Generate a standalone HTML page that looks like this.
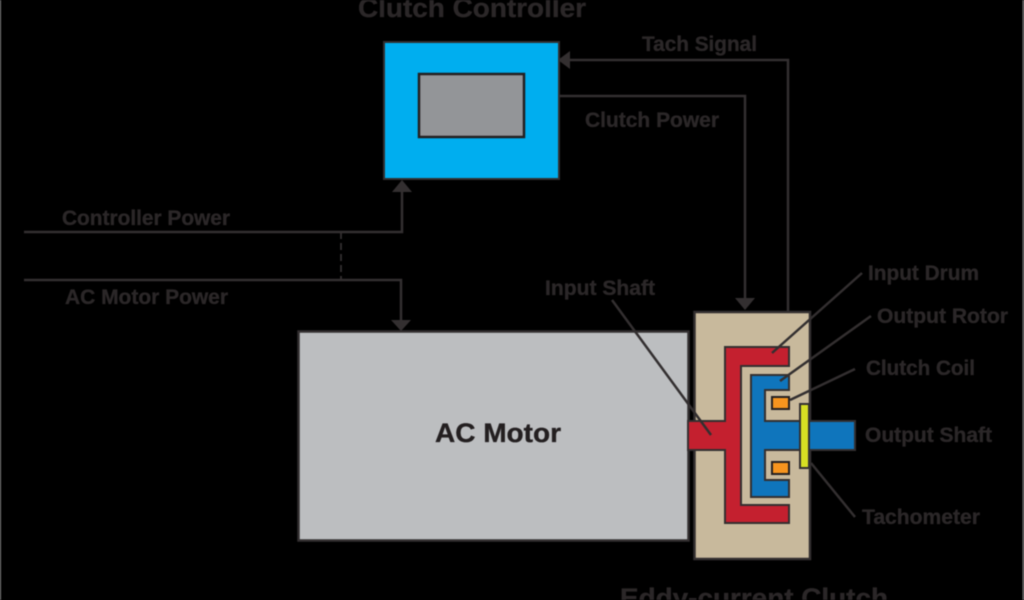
<!DOCTYPE html>
<html><head><meta charset="utf-8"><style>
html,body{margin:0;padding:0;background:#000;width:1024px;height:600px;overflow:hidden}
svg{display:block;filter:blur(0.6px)}
text{font-family:"Liberation Sans",sans-serif;font-weight:bold;fill:#2b2728;stroke:#2b2728;stroke-width:0.35px;font-size:21px}
</style></head><body>
<svg width="1024" height="600" viewBox="0 0 1024 600" xmlns="http://www.w3.org/2000/svg">
<rect width="1024" height="600" fill="#000"/>
<rect x="0" y="0" width="1" height="600" fill="#888"/>
<rect x="1022.5" y="0" width="1.5" height="600" fill="#777"/>
<g fill="none" stroke="#332f30" stroke-width="2.5">
<path d="M560 60H788V311"/>
<path d="M560 96H745V300"/>
<path d="M24 232H402V190"/>
<path d="M24 280H401V322"/>
<path d="M341 232V280" stroke-dasharray="7 4" stroke-width="1.8"/>
</g>
<g fill="#332f30">
<path d="M558 60L570 51V69Z"/>
<path d="M402 180L392 192H412Z"/>
<path d="M401 331L391 320H411Z"/>
<path d="M745 310L735 298H755Z"/>
</g>
<rect x="384" y="42" width="175" height="137" fill="#00aeef" stroke="#332f30" stroke-width="2"/>
<rect x="419" y="74" width="105" height="63" fill="#939598" stroke="#231f20" stroke-width="2.5"/>
<rect x="298.500" y="331.500" width="390" height="209" fill="#bcbec0" stroke="#332f30" stroke-width="2.5"/>
<rect x="694.500" y="312" width="115.500" height="247" fill="#c8b99c" stroke="#332f30" stroke-width="2.5"/>
<path d="M688 421H725V347H789V366H741V505H789V523H725V450H688Z" fill="#c4202f" stroke="#332f30" stroke-width="2"/>
<path d="M751 375H789V390H765V421H855V450H765V480H789V497H751Z" fill="#0f75bc" stroke="#332f30" stroke-width="2"/>
<rect x="772" y="397" width="17" height="12" fill="#f7941e" stroke="#231f20" stroke-width="2"/>
<rect x="772" y="462" width="17" height="12" fill="#f7941e" stroke="#231f20" stroke-width="2"/>
<rect x="800" y="404" width="9" height="64" fill="#d7df23" stroke="#332f30" stroke-width="2"/>
<g stroke="#332f30" stroke-width="2.5" fill="none">
<path d="M862 273L772 353"/>
<path d="M871 316L780 381"/>
<path d="M855 369L790 400"/>
<path d="M811 463L855 517"/>
<path d="M612 300L711 435"/>
</g>
<text x="358" y="17" style="font-size:27px" textLength="228" lengthAdjust="spacingAndGlyphs">Clutch Controller</text>
<text x="620" y="607" style="font-size:27px" textLength="268" lengthAdjust="spacingAndGlyphs">Eddy-current Clutch</text>
<text x="642" y="51" textLength="115" lengthAdjust="spacingAndGlyphs">Tach Signal</text>
<text x="585" y="127" textLength="134" lengthAdjust="spacingAndGlyphs">Clutch Power</text>
<text x="62" y="225" textLength="168" lengthAdjust="spacingAndGlyphs">Controller Power</text>
<text x="65" y="304" textLength="163" lengthAdjust="spacingAndGlyphs">AC Motor Power</text>
<text x="545" y="295" textLength="110" lengthAdjust="spacingAndGlyphs">Input Shaft</text>
<text x="868" y="280" textLength="111" lengthAdjust="spacingAndGlyphs">Input Drum</text>
<text x="877" y="323" textLength="131" lengthAdjust="spacingAndGlyphs">Output Rotor</text>
<text x="866" y="375" textLength="109" lengthAdjust="spacingAndGlyphs">Clutch Coil</text>
<text x="865" y="442" textLength="127" lengthAdjust="spacingAndGlyphs">Output Shaft</text>
<text x="862" y="524" textLength="118" lengthAdjust="spacingAndGlyphs">Tachometer</text>
<text x="435" y="442" style="font-size:27px;fill:#231f20;stroke:#231f20" textLength="126" lengthAdjust="spacingAndGlyphs">AC Motor</text>
</svg>
</body></html>
